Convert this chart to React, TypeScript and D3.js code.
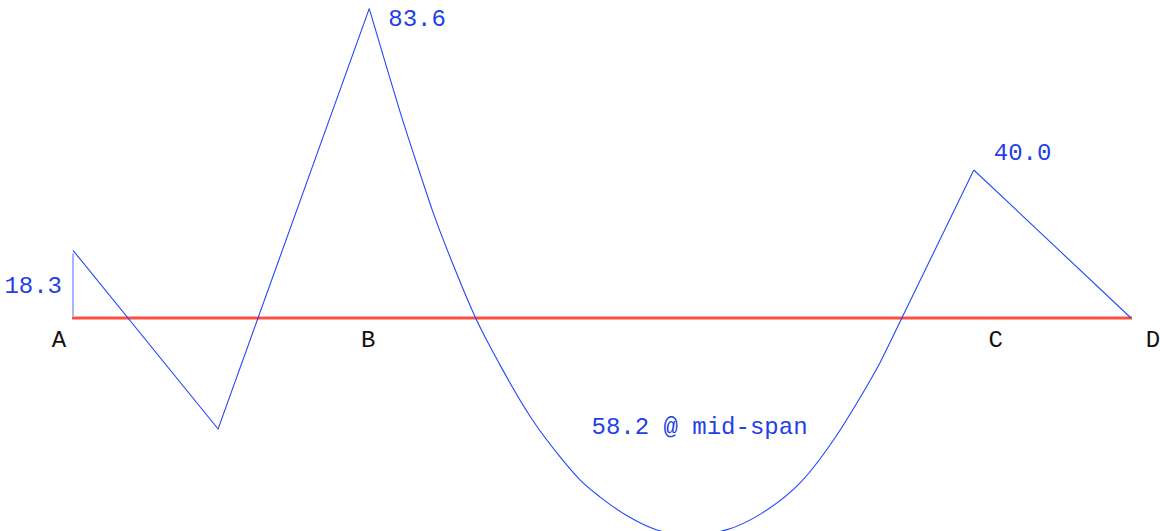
import React from "react";
import * as d3 from "d3";

// Beam supports (m along the beam) and their names
const supportNames = ["A", "B", "C", "D"];
const supportPos = [0, 4.9, 14.9, 17.5];

// Bending moment ordinates (kN·m), hogging positive
const spanABx = [0, 2.4, 4.9];
const spanABm = [18.3, -30.0, 83.6];

const spanBCx = [
  4.9, 5.16, 5.41, 5.77, 5.95, 6.32, 6.66, 7.06, 7.59, 8.06, 8.39, 8.72, 9.16,
  9.66, 9.9, 10.24, 10.82, 11.37, 12.03, 12.66, 13.02, 13.35, 13.71, 14.9,
];
const spanBCm = [
  83.6, 69.3, 55.7, 37.6, 28.8, 13.1, 0, -12.6, -27.3, -37.6, -43.8, -48.4,
  -53.4, -57.3, -58.2, -58.6, -57.2, -53.0, -44.5, -31.0, -21.5, -12.0, 0, 40.0,
];

const spanCDx = [14.9, 17.5];
const spanCDm = [40.0, 0];

const fixedEndMoment = 18.3;
const hogA = 18.3;
const hogB = 83.6;
const hogC = 40.0;
const sagMid = -58.2;
const midSpan = 9.9;

const W = 1160;
const H = 531;
const FONT = "'Courier New', 'Liberation Mono', monospace";
const LINE = "#2346ff";
const TEXT = "#1f3fe8";

type P = [number, number];
const zip = (xs: number[], ms: number[]): P[] => xs.map((v, i) => [v, ms[i]]);

export default function App() {
  const x = d3.scaleLinear().domain([0, 17.5]).range([73, 1131]);
  const y = d3.scaleLinear().domain([0, 100]).range([318, 318 - 370]);

  const straight = d3
    .line<P>()
    .x((d) => x(d[0]))
    .y((d) => y(d[1]))
    .curve(d3.curveLinear);
  const smooth = d3
    .line<P>()
    .x((d) => x(d[0]))
    .y((d) => y(d[1]))
    .curve(d3.curveMonotoneX);

  const labelDx = [-14, -1, 22, 22];

  return (
    <svg
      width={W}
      height={H}
      style={{ position: "absolute", left: 0, top: 0, background: "#fff" }}
    >
      {/* beam axis */}
      <line
        x1={x(0) - 1}
        x2={x(17.5) + 1}
        y1={y(0)}
        y2={y(0)}
        stroke="#ff4f42"
        strokeWidth={3}
      />
      {/* fixed-end moment jump at A */}
      <line
        x1={x(0)}
        x2={x(0)}
        y1={y(0) - 2}
        y2={y(fixedEndMoment) + 3}
        stroke="#6b82ff"
        strokeWidth={1.2}
      />
      {/* moment diagram, span by span */}
      <path
        d={straight(zip(spanABx, spanABm)) || ""}
        fill="none"
        stroke={LINE}
        strokeWidth={1.1}
      />
      <path
        d={smooth(zip(spanBCx, spanBCm)) || ""}
        fill="none"
        stroke={LINE}
        strokeWidth={1.1}
      />
      <path
        d={straight(zip(spanCDx, spanCDm)) || ""}
        fill="none"
        stroke={LINE}
        strokeWidth={1.1}
      />

      {/* support labels */}
      {supportNames.map((n, i) => (
        <text
          key={n}
          x={x(supportPos[i]) + labelDx[i]}
          y={347}
          textAnchor="middle"
          fontFamily={FONT}
          fontSize={24}
          fill="#111"
        >
          {n}
        </text>
      ))}

      {/* value labels */}
      <text
        x={x(0) - 11}
        y={(y(0) + y(hogA)) / 2 + 9}
        textAnchor="end"
        fontFamily={FONT}
        fontSize={24}
        fill={TEXT}
      >
        {hogA.toFixed(1)}
      </text>
      <text
        x={x(4.9) + 19}
        y={y(hogB) + 17}
        fontFamily={FONT}
        fontSize={24}
        fill={TEXT}
      >
        {hogB.toFixed(1)}
      </text>
      <text
        x={x(14.9) + 20}
        y={y(hogC) - 10}
        fontFamily={FONT}
        fontSize={24}
        fill={TEXT}
      >
        {hogC.toFixed(1)}
      </text>
      <text
        x={x(midSpan) + 28}
        y={y(sagMid) - 99}
        textAnchor="middle"
        fontFamily={FONT}
        fontSize={24}
        fill={TEXT}
      >
        {`${Math.abs(sagMid).toFixed(1)} @ mid-span`}
      </text>
    </svg>
  );
}
